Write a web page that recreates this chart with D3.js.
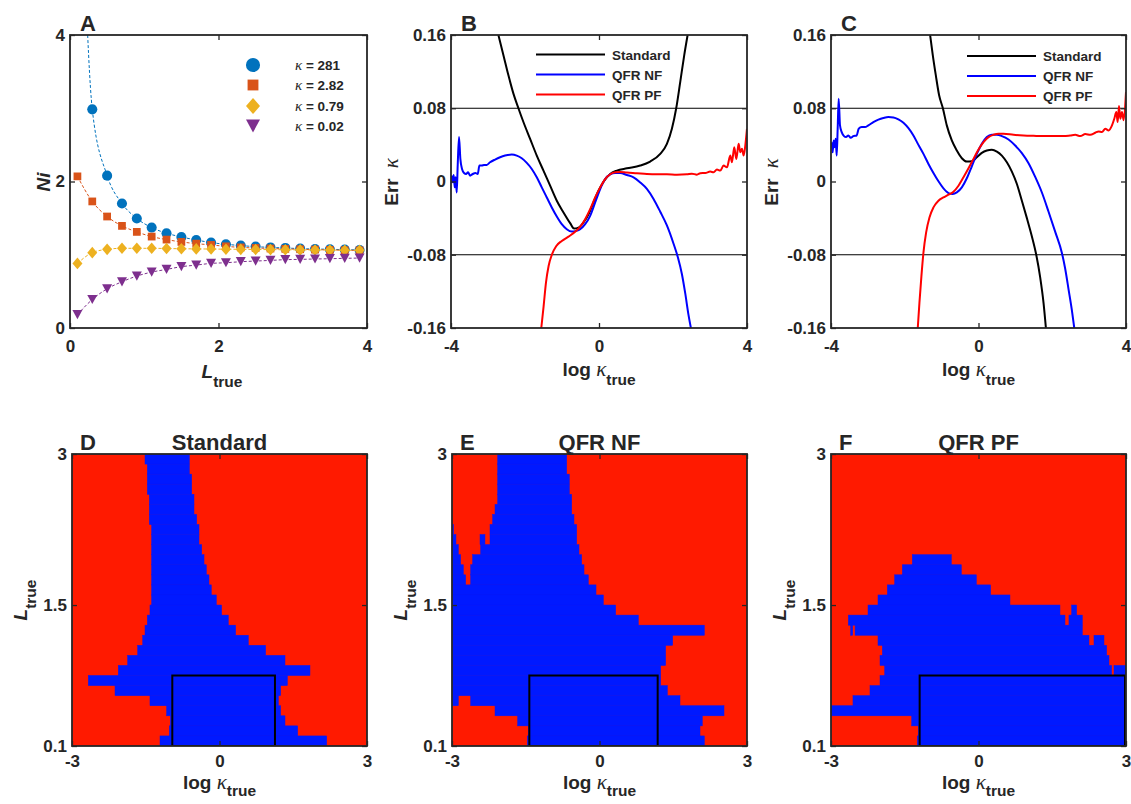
<!DOCTYPE html>
<html><head><meta charset="utf-8">
<script src="https://cdn.jsdelivr.net/npm/d3@7"></script>
<style>
body{margin:0;background:#fff;}
text{font-family:"Liberation Sans",Arial,sans-serif;font-weight:bold;fill:#262626;}
.gk{font-family:"Liberation Serif","DejaVu Serif",serif;font-style:italic;font-weight:normal;}
</style></head><body>
<script>
// ---------------- DATA ----------------
// Panel A
const aL = [0.1,0.3,0.5,0.7,0.9,1.1,1.3,1.5,1.7,1.9,2.1,2.3,2.5,2.7,2.9,3.1,3.3,3.5,3.7,3.9];
const aK281 = [8.3,2.985,2.08,1.70,1.495,1.371,1.294,1.243,1.202,1.166,1.143,1.125,1.111,1.10,1.093,1.083,1.079,1.074,1.07,1.065];
const aK282 = [2.07,1.728,1.522,1.394,1.312,1.248,1.207,1.175,1.152,1.134,1.115,1.10,1.093,1.085,1.08,1.075,1.07,1.066,1.062,1.06];
const aK079 = [0.882,1.029,1.074,1.088,1.088,1.088,1.085,1.082,1.08,1.078,1.076,1.074,1.072,1.07,1.068,1.066,1.065,1.064,1.062,1.06];
const aK002 = [0.183,0.389,0.535,0.631,0.709,0.763,0.80,0.837,0.859,0.882,0.891,0.905,0.914,0.923,0.933,0.937,0.942,0.946,0.951,0.955];
const aNames = ["281","2.82","0.79","0.02"];
const aColors = ["#0072BD","#D95319","#EDB120","#7E2F8E"];
const aXTicks = [0,2,4], aYTicks = [0,2,4];

// Panel B  [log kappa_true, Err kappa]
const bStd = [[-2.719,0.16],[-2.583,0.138],[-2.448,0.116],[-2.313,0.096],[-2.178,0.080],[-2.043,0.065],[-1.862,0.0466],[-1.682,0.0283],[-1.501,0.0119],[-1.321,-0.0046],[-1.141,-0.021],[-0.960,-0.0338],[-0.780,-0.0455],[-0.672,-0.0514],[-0.555,-0.0503],[-0.419,-0.0448],[-0.284,-0.0357],[-0.149,-0.0229],[-0.014,-0.0101],[0.122,-0.0002],[0.302,0.0082],[0.482,0.0119],[0.753,0.0144],[1.114,0.0174],[1.384,0.0218],[1.655,0.0302],[1.835,0.0411],[1.970,0.0576],[2.088,0.0803],[2.196,0.1088],[2.304,0.1381],[2.395,0.16]];
const bNF = [[-3.981,0.0064],[-3.954,-0.0009],[-3.927,0.0071],[-3.900,-0.0064],[-3.873,0.0046],[-3.846,-0.0119],[-3.819,0.0174],[-3.783,0.0485],[-3.747,0.0247],[-3.702,0.0137],[-3.647,0.0093],[-3.593,0.0082],[-3.539,0.0101],[-3.485,0.0064],[-3.413,0.0082],[-3.341,0.0093],[-3.277,0.0082],[-3.232,0.0174],[-3.169,0.0174],[-3.106,0.0181],[-3.034,0.0181],[-2.944,0.021],[-2.809,0.024],[-2.674,0.0265],[-2.538,0.0283],[-2.358,0.0294],[-2.223,0.0283],[-2.088,0.0254],[-1.952,0.0203],[-1.817,0.0137],[-1.682,0.0046],[-1.547,-0.0064],[-1.411,-0.0174],[-1.276,-0.0283],[-1.141,-0.0382],[-1.006,-0.0466],[-0.871,-0.0521],[-0.735,-0.0547],[-0.618,-0.0539],[-0.509,-0.0521],[-0.374,-0.0466],[-0.239,-0.0375],[-0.104,-0.0229],[0.032,-0.0082],[0.167,0.0027],[0.302,0.0079],[0.437,0.0093],[0.573,0.0093],[0.753,0.0071],[0.933,0.0046],[1.114,-0.001],[1.294,-0.008],[1.474,-0.019],[1.655,-0.033],[1.835,-0.048],[2.015,-0.068],[2.133,-0.083],[2.24,-0.101],[2.33,-0.122],[2.42,-0.146],[2.484,-0.16]];
const bPF = [[-1.560,-0.16],[-1.497,-0.1363],[-1.434,-0.1106],[-1.362,-0.0923],[-1.271,-0.0796],[-1.154,-0.0704],[-1.006,-0.0649],[-0.825,-0.0602],[-0.645,-0.0550],[-0.509,-0.0492],[-0.374,-0.0411],[-0.239,-0.0302],[-0.104,-0.0174],[0.032,-0.0064],[0.167,0.0027],[0.302,0.0079],[0.437,0.0101],[0.573,0.0104],[0.753,0.0097],[1.023,0.0090],[1.294,0.0082],[1.565,0.0079],[1.835,0.0079],[2.105,0.0075],[2.376,0.0079],[2.511,0.0086],[2.647,0.0075],[2.737,0.0090],[2.872,0.0093],[3.007,0.0108],[3.097,0.0101],[3.187,0.013],[3.278,0.0119],[3.368,0.0174],[3.458,0.0155],[3.548,0.0283],[3.593,0.021],[3.656,0.0375],[3.711,0.0247],[3.774,0.0411],[3.819,0.032],[3.864,0.0357],[3.909,0.0283],[3.954,0.0393],[3.999,0.0576]];

// Panel C
const cStd = [[-1.312,0.16],[-1.240,0.1381],[-1.158,0.1161],[-1.068,0.0942],[-0.968,0.0803],[-0.860,0.0613],[-0.724,0.0448],[-0.588,0.0338],[-0.452,0.0254],[-0.317,0.0218],[-0.181,0.0221],[-0.045,0.0265],[0.090,0.0313],[0.226,0.0338],[0.362,0.0346],[0.498,0.0327],[0.633,0.0283],[0.769,0.021],[0.905,0.0108],[1.041,-0.0027],[1.176,-0.021],[1.312,-0.040],[1.448,-0.060],[1.566,-0.080],[1.674,-0.105],[1.765,-0.133],[1.828,-0.16]];
const cNF = [[-3.982,0.043],[-3.955,0.032],[-3.928,0.0448],[-3.900,0.0375],[-3.873,0.0466],[-3.846,0.0283],[-3.819,0.0576],[-3.792,0.0905],[-3.756,0.0613],[-3.710,0.0539],[-3.647,0.0496],[-3.593,0.0485],[-3.529,0.0503],[-3.466,0.0477],[-3.394,0.0496],[-3.303,0.0503],[-3.249,0.0576],[-3.167,0.0594],[-3.077,0.0594],[-2.986,0.0613],[-2.851,0.0649],[-2.715,0.0675],[-2.579,0.0693],[-2.443,0.0704],[-2.308,0.07],[-2.172,0.0679],[-2.036,0.0642],[-1.900,0.0583],[-1.765,0.0503],[-1.629,0.04],[-1.493,0.0302],[-1.357,0.0192],[-1.222,0.0093],[-1.086,0.0002],[-0.950,-0.0075],[-0.814,-0.0126],[-0.697,-0.0137],[-0.588,-0.0119],[-0.452,-0.0064],[-0.317,0.0035],[-0.181,0.0166],[-0.045,0.0302],[0.090,0.0411],[0.226,0.0485],[0.362,0.051],[0.498,0.051],[0.633,0.0496],[0.814,0.0459],[0.995,0.0393],[1.176,0.0310],[1.357,0.0200],[1.538,0.0050],[1.719,-0.012],[1.900,-0.033],[2.081,-0.055],[2.262,-0.078],[2.35,-0.095],[2.443,-0.118],[2.53,-0.14],[2.597,-0.16]];
const cPF = [[-1.647,-0.16],[-1.602,-0.1326],[-1.548,-0.1033],[-1.493,-0.0777],[-1.421,-0.0558],[-1.330,-0.0393],[-1.222,-0.0283],[-1.086,-0.021],[-0.950,-0.0174],[-0.814,-0.0144],[-0.679,-0.0112],[-0.543,-0.0046],[-0.407,0.0046],[-0.271,0.0144],[-0.136,0.0247],[0,0.0349],[0.136,0.043],[0.271,0.0485],[0.407,0.051],[0.543,0.0521],[0.679,0.0521],[0.950,0.051],[1.222,0.0503],[1.493,0.0499],[1.765,0.0496],[2.036,0.0496],[2.308,0.0496],[2.489,0.0503],[2.624,0.051],[2.760,0.0496],[2.896,0.0518],[3.032,0.051],[3.167,0.0532],[3.258,0.0547],[3.348,0.054],[3.439,0.0576],[3.529,0.0558],[3.620,0.0613],[3.683,0.0686],[3.738,0.0759],[3.774,0.0649],[3.810,0.0825],[3.846,0.0686],[3.891,0.0759],[3.937,0.0668],[4.0,0.0978]];
const bcNames = ["Standard","QFR NF","QFR PF"];
const bcColors = ["#000000","#0000ff","#ff0000"];
const bcXTicks = [-4,0,4], bcYTicks = [-0.16,-0.08,0,0.08,0.16];
const bcRefLines = [-0.08,0.08];

// Panels D-F: blue intervals of log kappa_true per L_true row (rows from top, 0.1 high)
const mapRowTop = [3.0,2.9,2.8,2.7,2.6,2.5,2.4,2.3,2.2,2.1,2.0,1.9,1.8,1.7,1.6,1.5,1.4,1.3,1.2,1.1,1.0,0.9,0.8,0.7,0.6,0.5,0.4,0.3,0.2];
const mapStdBlue = [
 [[-1.515,-0.614]],[[-1.468,-0.614]],[[-1.468,-0.566]],[[-1.468,-0.566]],[[-1.427,-0.519]],
 [[-1.427,-0.519]],[[-1.427,-0.464]],[[-1.38,-0.417]],[[-1.38,-0.417]],[[-1.38,-0.362]],
 [[-1.38,-0.315]],[[-1.38,-0.268]],[[-1.38,-0.214]],[[-1.38,-0.167]],[[-1.38,-0.065]],
 [[-1.414,0.043]],[[-1.468,0.179]],[[-1.515,0.328]],[[-1.562,0.586]],[[-1.664,0.938]],
 [[-1.868,1.332]],[[-2.058,1.84]],[[-2.668,1.38]],[[-2.125,1.244]],[[-1.414,1.197]],
 [[-1.075,1.244]],[[-1.0,1.332]],[[-1.02,1.59]],[[-1.21,2.18]]];
const mapNFBlue = [
 [[-2.071,-0.668]],[[-2.071,-0.668]],[[-2.071,-0.614]],[[-2.071,-0.614]],[[-2.071,-0.566]],
 [[-2.125,-0.566]],[[-2.173,-0.519]],[[-3,-2.97],[-2.227,-0.464]],[[-3,-2.92],[-2.43,-2.33],[-2.227,-0.464]],
 [[-3,-2.871],[-2.417,-0.417]],[[-3,-2.824],[-2.58,-0.363]],[[-3,-2.77],[-2.62,-0.315]],[[-3,-2.722],[-2.62,-0.227]],
 [[-3,-0.071]],[[-3,0.078]],[[-3,0.329]],[[-3,0.79]],[[-3,2.132]],[[-3,1.488]],[[-3,1.345]],[[-3,1.345]],
 [[-3,1.244]],[[-3,1.244]],[[-3,1.38]],[[-3,-2.871],[-2.62,1.637]],[[-2.125,2.532]],[[-1.665,2.09]],
 [[-1.448,2.044]],[[-1.468,2.132]]];
const mapPFBlue = [
 [],[],[],[],[],[],[],[],[],[],
 [[-1.346,-0.553]],[[-1.549,-0.349]],[[-1.705,-0.044]],[[-1.854,0.247]],[[-2.044,0.64]],
 [[-2.247,1.657],[1.895,1.996]],[[-2.647,1.759],[1.840,2.111]],[[-2.6,-2.56],[-2.51,2.111]],
 [[-2.044,2.247],[2.349,2.552]],[[-1.956,2.606]],[[-2.003,2.654]],[[-1.908,2.708],[2.756,3]],
 [[-2.003,3]],[[-2.207,3]],[[-2.553,3]],[[-3,3]],[[-1.359,3]],[[-1.224,3]],[[-1.244,3]]];
const mapBoxes = [[-0.96,1.128,0.1,0.8],[-1.427,1.183,0.1,0.8],[-1.197,2.98,0.1,0.8]];
const mapTitles = ["Standard","QFR NF","QFR PF"];
const mapXTicks = [-3,0,3], mapYTicks = [0.1,1.5,3];
const mapRed = "#ff1a00", mapBlue = "#0019ff";

// ---------------- DRAW ----------------
const W=1131,H=804;
const svg=d3.select("body").append("svg").attr("width",W).attr("height",H);
let clipId=0;
const plain = d => String(d);

function frame(g,xs,ys,xt,yt,xpad){
  const [x0,x1]=xs.range(), [y0,y1]=ys.range();
  const ax=[
    g.append("g").attr("transform",`translate(0,${y0})`).call(d3.axisBottom(xs).tickValues(xt).tickFormat(plain).tickSize(-5).tickPadding(xpad)),
    g.append("g").attr("transform",`translate(0,${y1})`).call(d3.axisTop(xs).tickValues(xt).tickFormat("").tickSize(-5)),
    g.append("g").attr("transform",`translate(${x0},0)`).call(d3.axisLeft(ys).tickValues(yt).tickFormat(plain).tickSize(-5).tickPadding(5)),
    g.append("g").attr("transform",`translate(${x1},0)`).call(d3.axisRight(ys).tickValues(yt).tickFormat("").tickSize(-5))
  ];
  ax.forEach(a=>{a.attr("font-size",17).attr("font-family",null);a.select(".domain").remove();
    a.selectAll(".tick line").attr("stroke","#262626").attr("stroke-width",1.3);});
  g.append("rect").attr("x",x0).attr("y",y1).attr("width",x1-x0).attr("height",y0-y1)
   .attr("fill","none").attr("stroke","#262626").attr("stroke-width",1.8);
}
function clip(g,xs,ys){
  const id="c"+(clipId++); const [x0,x1]=xs.range(), [y0,y1]=ys.range();
  svg.append("clipPath").attr("id",id).append("rect").attr("x",x0).attr("y",y1).attr("width",x1-x0).attr("height",y0-y1);
  return g.append("g").attr("clip-path",`url(#${id})`);
}
function letter(x,y,t){svg.append("text").attr("x",x).attr("y",y).attr("font-size",22).attr("fill","#000").text(t);}
function kappaLabel(cx,y,sub){
  const t=svg.append("text").attr("x",cx).attr("y",y).attr("text-anchor","middle").attr("font-size",19);
  t.append("tspan").text("log ");
  t.append("tspan").attr("class","gk").attr("font-size",21).text("κ");
  t.append("tspan").attr("font-size",15.5).attr("dy",sub).text("true");
}
function errLabel(xb,cy){
  const t=svg.append("text").attr("transform",`translate(${xb},${cy}) rotate(-90)`).attr("text-anchor","middle").attr("font-size",19);
  t.append("tspan").text("Err");
  t.append("tspan").attr("class","gk").attr("font-size",21).attr("dx",10).text("κ");
}
function lLabel(x,y,rot){
  const t=svg.append("text").attr("transform",rot?`translate(${x},${y}) rotate(-90)`:`translate(${x},${y})`).attr("text-anchor","middle").attr("font-size",19);
  t.append("tspan").attr("font-style","italic").text("L");
  t.append("tspan").attr("font-size",15.5).attr("dy",9).text("true");
}

// ---- Panel A ----
{
  const xs=d3.scaleLinear().domain([0,4]).range([70,367]);
  const ys=d3.scaleLinear().domain([0,4]).range([328,35]);
  const g=svg.append("g");
  const cg=clip(g,xs,ys);
  const series=[aK281,aK282,aK079,aK002];
  const syms=[d3.symbolCircle,d3.symbolSquare];
  const sizes=[80,60];
  const line=d3.line().x((d,i)=>xs(aL[i])).y(d=>ys(d)).curve(d3.curveMonotoneX);
  function marker(sel,k,scale){
    if(k===2){
      const w=5*scale,h=5.8*scale;
      sel.append("path").attr("d",`M0,${-h}L${w},0L0,${h}L${-w},0Z`).attr("fill",aColors[k]);
    } else if(k===3){
      const w=5*scale,h=4.6*scale;
      sel.append("path").attr("d",`M${-w},${-h}L${w},${-h}L0,${h}Z`).attr("fill",aColors[k]);
    } else {
      sel.append("path").attr("d",d3.symbol(syms[k],sizes[k]*scale*scale)()).attr("fill",aColors[k]);
    }
  }
  series.forEach((s,k)=>{
    cg.append("path").attr("d",line(s)).attr("fill","none").attr("stroke",aColors[k]).attr("stroke-width",1).attr("stroke-dasharray","3,2");
    s.forEach((v,i)=>{ marker(cg.append("g").attr("transform",`translate(${xs(aL[i])},${ys(v)})`),k,1); });
  });
  frame(g,xs,ys,aXTicks,aYTicks,11.5);
  const ly=[65,85,106,126];
  aNames.forEach((n,k)=>{
    marker(svg.append("g").attr("transform",`translate(253,${ly[k]})`),k,1.4);
    const t=svg.append("text").attr("x",295).attr("y",ly[k]+5).attr("font-size",13.5).attr("fill","#000");
    t.append("tspan").attr("class","gk").attr("font-size",15).text("κ");
    t.append("tspan").text(" = "+n);
  });
  letter(80,31,"A");
  svg.append("text").attr("transform","translate(50,182) rotate(-90)").attr("text-anchor","middle").attr("font-size",19).attr("font-style","italic").text("Ni");
  lLabel(222,378,false);
}

// ---- Panels B, C ----
function errPanel(x0,x1,data,legX,legY,lab){
  const xs=d3.scaleLinear().domain([-4,4]).range([x0,x1]);
  const ys=d3.scaleLinear().domain([-0.16,0.16]).range([328,35]);
  const g=svg.append("g");
  const cg=clip(g,xs,ys);
  bcRefLines.forEach(v=>cg.append("line").attr("x1",x0).attr("x2",x1).attr("y1",ys(v)).attr("y2",ys(v)).attr("stroke","#000").attr("stroke-width",1));
  const line=d3.line().x(d=>xs(d[0])).y(d=>ys(d[1])).curve(d3.curveMonotoneX);
  data.forEach((s,k)=>cg.append("path").attr("d",line(s)).attr("fill","none").attr("stroke",bcColors[k]).attr("stroke-width",2));
  frame(g,xs,ys,bcXTicks,bcYTicks,11.5);
  bcNames.forEach((n,k)=>{
    svg.append("line").attr("x1",legX).attr("x2",legX+69).attr("y1",legY+20*k).attr("y2",legY+20*k).attr("stroke",bcColors[k]).attr("stroke-width",2);
    svg.append("text").attr("x",legX+76).attr("y",legY+20*k+5).attr("font-size",13.5).attr("fill","#000").text(n);
  });
  letter(x0+10,31,lab);
  errLabel(x0-53,182);
  kappaLabel((x0+x1)/2,376,9);
}
errPanel(451,747,[bStd,bNF,bPF],536,54.5,"B");
errPanel(831,1126,[cStd,cNF,cPF],967,56,"C");

// ---- Panels D, E, F ----
function mapPanel(x0,x1,rows,box,title,lab){
  const xs=d3.scaleLinear().domain([-3,3]).range([x0,x1]);
  const ys=d3.scaleLinear().domain([0.1,3]).range([746,454]);
  const g=svg.append("g");
  const cg=clip(g,xs,ys);
  cg.append("rect").attr("x",x0).attr("y",454).attr("width",x1-x0).attr("height",292).attr("fill",mapRed);
  rows.forEach((iv,j)=>{
    const top=mapRowTop[j];
    iv.forEach(([a,b])=>{
      cg.append("rect").attr("x",xs(a)).attr("width",xs(b)-xs(a))
        .attr("y",ys(top)).attr("height",ys(top-0.1)-ys(top))
        .attr("fill",mapBlue).attr("stroke",mapBlue).attr("stroke-width",0.5);
    });
  });
  cg.append("rect").attr("x",xs(box[0])).attr("width",xs(box[1])-xs(box[0]))
    .attr("y",ys(box[3])).attr("height",ys(box[2])-ys(box[3])).attr("fill","none").attr("stroke","#000").attr("stroke-width",2);
  frame(g,xs,ys,mapXTicks,mapYTicks,8.5);
  svg.append("text").attr("x",(x0+x1)/2).attr("y",450).attr("text-anchor","middle").attr("font-size",22).attr("fill","#000").text(title);
  letter(x0+8,450,lab);
  lLabel(x0-45,600,true);
  kappaLabel((x0+x1)/2,789,7);
}
mapPanel(72,367,mapStdBlue,mapBoxes[0],mapTitles[0],"D");
mapPanel(452,747,mapNFBlue,mapBoxes[1],mapTitles[1],"E");
mapPanel(831,1126,mapPFBlue,mapBoxes[2],mapTitles[2],"F");
</script></body></html>
